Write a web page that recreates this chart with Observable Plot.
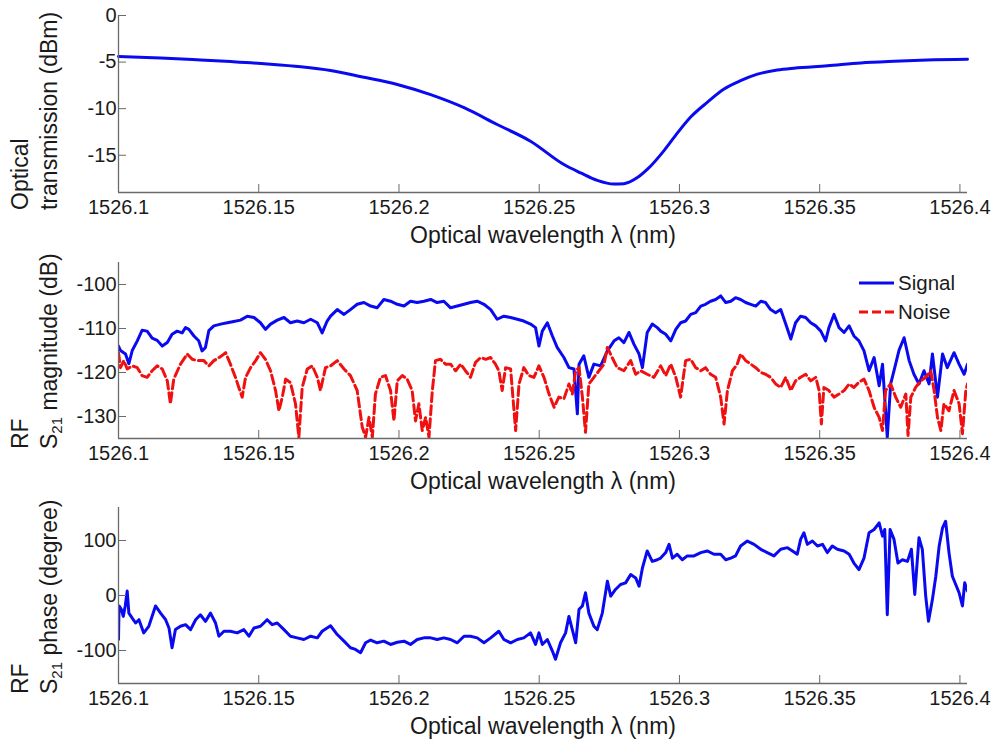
<!DOCTYPE html>
<html><head><meta charset="utf-8">
<script src="https://cdn.jsdelivr.net/npm/d3@7"></script>
<script src="https://cdn.jsdelivr.net/npm/@observablehq/plot@0.6"></script>
<style>body{margin:0;background:#fff;} #chart svg{display:block;}</style>
</head><body><div id="chart"></div>
<script>
const xTicks = [1526.1, 1526.15, 1526.2, 1526.25, 1526.3, 1526.35, 1526.4];
const xDomain = [1526.1, 1526.4027];
const xLabel = "Optical wavelength λ (nm)";

const transTicks = [0, -5, -10, -15];
const magTicks = [-100, -110, -120, -130];
const phaseTicks = [100, 0, -100];
const legendNames = ["Signal", "Noise"];

const transmission = [[1526.1000,-4.40],[1526.1150,-4.55],[1526.1293,-4.77],[1526.1400,-4.95],[1526.1530,-5.2],[1526.1650,-5.5],[1526.1756,-5.9],[1526.1870,-6.6],[1526.1994,-7.4],[1526.2113,-8.5],[1526.2232,-9.9],[1526.2350,-11.7],[1526.2469,-13.5],[1526.2588,-16.0],[1526.2648,-16.9],[1526.2707,-17.7],[1526.2766,-18.1],[1526.2802,-18.05],[1526.2850,-17.4],[1526.2886,-16.5],[1526.2945,-14.5],[1526.2993,-12.6],[1526.3040,-10.9],[1526.3100,-9.3],[1526.3159,-7.9],[1526.3218,-7.0],[1526.3278,-6.3],[1526.3349,-5.85],[1526.3408,-5.65],[1526.3527,-5.4],[1526.3646,-5.1],[1526.3765,-4.92],[1526.3884,-4.78],[1526.4027,-4.7]];

const signal = [[1526.1000,-114],[1526.1007,-115],[1526.1025,-115.8],[1526.1037,-118],[1526.1049,-115],[1526.1067,-112.8],[1526.1084,-110.4],[1526.1102,-110.6],[1526.1120,-112.2],[1526.1138,-112.7],[1526.1156,-114],[1526.1174,-113.2],[1526.1191,-111.3],[1526.1209,-110.6],[1526.1227,-111],[1526.1239,-109.8],[1526.1251,-110.2],[1526.1269,-111.7],[1526.1286,-112.8],[1526.1298,-115.1],[1526.1310,-114.3],[1526.1322,-110.5],[1526.1340,-109.4],[1526.1364,-109],[1526.1388,-108.7],[1526.1411,-108.4],[1526.1435,-108.1],[1526.1459,-107.2],[1526.1483,-107.5],[1526.1506,-108.7],[1526.1524,-110.2],[1526.1542,-109],[1526.1566,-108.1],[1526.1590,-107.5],[1526.1613,-108.7],[1526.1637,-108.3],[1526.1661,-108.7],[1526.1685,-107.9],[1526.1709,-108.7],[1526.1726,-111],[1526.1744,-108.3],
[1526.1756,-107.2],[1526.1780,-105.7],[1526.1804,-106.8],[1526.1827,-105.7],[1526.1851,-104.5],[1526.1875,-104.1],[1526.1899,-104.9],[1526.1922,-105.3],[1526.1946,-103.4],[1526.1970,-103.8],[1526.1994,-104.5],[1526.2018,-104.9],[1526.2041,-103.8],[1526.2065,-104.1],[1526.2089,-103.8],[1526.2113,-103.4],[1526.2136,-104.1],[1526.2160,-103.8],[1526.2184,-105.3],[1526.2208,-104.9],[1526.2232,-104.5],[1526.2255,-104.1],[1526.2279,-103.8],[1526.2303,-104.5],[1526.2327,-105.7],[1526.2350,-107.9],[1526.2374,-107.2],[1526.2398,-107.5],[1526.2422,-107.9],[1526.2445,-108.3],[1526.2469,-109],[1526.2487,-109.8],[1526.2499,-114],[1526.2511,-110.6],[1526.2529,-108.7],[1526.2547,-111.7],[1526.2564,-114.3],[1526.2588,-116.6],[1526.2606,-118.9],[1526.2624,-119.2],[1526.2636,-129.4],[1526.2642,-118.1],[1526.2659,-116.2],[1526.2677,-121.1],[1526.2695,-118.1],[1526.2719,-118.5],[1526.2743,-115.1],[1526.2767,-112.8],[1526.2784,-112.1],[1526.2802,-113.2],[1526.2820,-110.9],[1526.2838,-113.6],[1526.2856,-115.8],[1526.2868,-118.9],[1526.2885,-110.9],[1526.2903,-109],[1526.2921,-109.8],
[1526.2933,-110.6],[1526.2951,-111.3],[1526.2969,-112.8],[1526.2987,-110.2],[1526.3004,-108.7],[1526.3022,-108.3],[1526.3040,-106.8],[1526.3058,-106.4],[1526.3076,-104.9],[1526.3093,-104.5],[1526.3111,-103.8],[1526.3129,-103.4],[1526.3147,-102.6],[1526.3165,-104.1],[1526.3183,-103.8],[1526.3200,-103],[1526.3218,-103.4],[1526.3236,-104.1],[1526.3254,-104.5],[1526.3272,-104.9],[1526.3290,-103.8],[1526.3307,-104.1],[1526.3325,-105.7],[1526.3343,-106.4],[1526.3361,-105.7],[1526.3379,-109],[1526.3397,-112.4],[1526.3414,-108.7],[1526.3432,-107.2],[1526.3450,-107.5],[1526.3468,-108.7],[1526.3486,-109.4],[1526.3504,-110.6],[1526.3521,-112.8],[1526.3533,-109.8],[1526.3551,-106.8],[1526.3569,-109.8],[1526.3587,-110.9],[1526.3605,-109.4],[1526.3622,-111.7],[1526.3640,-112.8],[1526.3658,-115.1],[1526.3676,-119.6],[1526.3694,-116.6],[1526.3712,-123],[1526.3724,-118.1],[1526.3741,-134.7],[1526.3753,-122.6],[1526.3765,-119.6],[1526.3783,-114.9],[1526.3801,-112.1],[1526.3819,-117.3],[1526.3836,-120.4],[1526.3854,-122.6],[1526.3872,-119.6],[1526.3890,-122.6],[1526.3902,-115.8],[1526.3920,-125.6],[1526.3938,-115.8],[1526.3955,-118.9],[1526.3979,-115.5],[1526.3997,-118.1],[1526.4015,-120.4],[1526.4027,-118.1]];

const noise = [[1526.1000,-115.5],[1526.1007,-118.9],[1526.1019,-117.3],[1526.1031,-119.2],[1526.1049,-118.5],[1526.1067,-118.9],[1526.1084,-120.7],[1526.1102,-121.1],[1526.1120,-119.6],[1526.1138,-118.5],[1526.1156,-119.2],[1526.1174,-121.9],[1526.1185,-127.1],[1526.1197,-121.5],[1526.1221,-118.1],[1526.1245,-115.8],[1526.1263,-117],[1526.1281,-117.3],[1526.1304,-117.3],[1526.1322,-118.5],[1526.1340,-117.3],[1526.1364,-116.4],[1526.1382,-115.5],[1526.1399,-118.1],[1526.1417,-121.1],[1526.1429,-123.4],[1526.1441,-125.6],[1526.1453,-121.1],[1526.1471,-118.9],[1526.1489,-117.3],[1526.1506,-115.5],[1526.1524,-117],[1526.1542,-119.6],[1526.1560,-124.1],[1526.1572,-128.7],[1526.1584,-125.6],[1526.1596,-121.5],[1526.1613,-122.3],[1526.1631,-127.1],[1526.1643,-134.7],[1526.1655,-123.4],[1526.1673,-119.2],[1526.1691,-118.5],[1526.1709,-121.1],[1526.1720,-124.1],[1526.1738,-118.9],
[1526.1756,-118.5],[1526.1780,-117.3],[1526.1804,-119.2],[1526.1827,-120.7],[1526.1851,-124.1],[1526.1869,-132.4],[1526.1881,-134.7],[1526.1893,-130.2],[1526.1905,-134.7],[1526.1916,-124.9],[1526.1934,-121.1],[1526.1952,-120.7],[1526.1970,-124.1],[1526.1982,-131],[1526.1994,-121.9],[1526.2012,-120.7],[1526.2029,-121.5],[1526.2047,-124.1],[1526.2059,-131],[1526.2071,-127.1],[1526.2083,-133.2],[1526.2095,-130.2],[1526.2107,-134.7],[1526.2119,-124.1],[1526.2130,-117.3],[1526.2148,-117],[1526.2166,-118.1],[1526.2184,-118.1],[1526.2202,-119.6],[1526.2220,-118.1],[1526.2237,-119.6],[1526.2255,-121.1],[1526.2273,-117.7],[1526.2291,-116.6],[1526.2309,-117],[1526.2327,-116.6],[1526.2344,-118.1],[1526.2356,-119.6],[1526.2368,-124.1],[1526.2380,-118.9],[1526.2398,-119.2],[1526.2416,-133.2],[1526.2428,-122.6],[1526.2445,-118.9],[1526.2463,-120.7],[1526.2481,-121.1],[1526.2499,-118.5],[1526.2517,-121.1],[1526.2535,-124.9],[1526.2553,-127.9],[1526.2570,-125.6],[1526.2588,-126],[1526.2606,-122.6],[1526.2618,-124.9],[1526.2630,-119.6],[1526.2642,-118.9],[1526.2654,-125.6],[1526.2665,-133.6],[1526.2677,-122.6],[1526.2695,-121.1],[1526.2713,-119.6],[1526.2731,-118.1],[1526.2743,-114.3],[1526.2760,-116.6],[1526.2778,-118.9],[1526.2802,-119.6],[1526.2826,-117.3],[1526.2844,-120.4],[1526.2862,-119.6],[1526.2885,-120.4],[1526.2909,-121.1],
[1526.2933,-118.5],[1526.2951,-120.7],[1526.2969,-118.1],[1526.2987,-121.1],[1526.3004,-125.6],[1526.3022,-117.3],[1526.3040,-117],[1526.3058,-118.9],[1526.3076,-119.6],[1526.3093,-118.9],[1526.3111,-120.4],[1526.3129,-121.1],[1526.3147,-125.6],[1526.3159,-131.7],[1526.3171,-124.1],[1526.3189,-119.6],[1526.3206,-118.1],[1526.3218,-115.8],[1526.3236,-117.3],[1526.3254,-118.1],[1526.3272,-118.9],[1526.3290,-120],[1526.3307,-120.4],[1526.3325,-121.1],[1526.3343,-122.6],[1526.3361,-123.4],[1526.3379,-121.1],[1526.3397,-124.1],[1526.3414,-121.9],[1526.3432,-121.1],[1526.3450,-120.4],[1526.3468,-121.9],[1526.3486,-121.1],[1526.3498,-124.1],[1526.3506,-131.7],[1526.3515,-123.4],[1526.3533,-124.1],[1526.3551,-125.6],[1526.3569,-124.9],[1526.3587,-124.1],[1526.3605,-122.6],[1526.3622,-123.4],[1526.3640,-122.2],[1526.3658,-121.5],[1526.3676,-124.1],[1526.3694,-127.9],[1526.3712,-130.2],[1526.3724,-133.2],[1526.3735,-124.1],[1526.3753,-122.6],[1526.3771,-125.6],[1526.3789,-127.9],[1526.3807,-124.9],[1526.3815,-134.3],[1526.3825,-125.6],[1526.3842,-123.4],[1526.3860,-121.9],[1526.3878,-121.1],[1526.3896,-119.6],[1526.3908,-124.1],[1526.3920,-130.2],[1526.3932,-133.2],[1526.3943,-127.1],[1526.3961,-128.7],[1526.3979,-124.1],[1526.3997,-127.1],[1526.4009,-133.9],[1526.4021,-124.1],[1526.4027,-122.6]];

const phase = [[1526.1000,-80],[1526.1002,-19],[1526.1010,-25],[1526.1017,-38],[1526.1024,-19],[1526.1031,8],[1526.1037,-32],[1526.1049,-41],[1526.1061,-50],[1526.1073,-44],[1526.1090,-68],[1526.1108,-56],[1526.1132,-19],[1526.1150,-32],[1526.1168,-44],[1526.1180,-59],[1526.1191,-95],[1526.1203,-62],[1526.1221,-56],[1526.1239,-53],[1526.1257,-62],[1526.1275,-44],[1526.1292,-35],[1526.1310,-47],[1526.1328,-32],[1526.1346,-50],[1526.1358,-74],[1526.1376,-65],[1526.1399,-65],[1526.1423,-68],[1526.1447,-62],[1526.1465,-74],[1526.1483,-59],[1526.1506,-56],[1526.1530,-44],[1526.1548,-53],[1526.1566,-50],[1526.1590,-62],[1526.1613,-74],[1526.1637,-77],[1526.1661,-80],[1526.1685,-74],[1526.1709,-77],[1526.1726,-65],[1526.1756,-55],
[1526.1780,-71],[1526.1804,-83],[1526.1827,-95],[1526.1845,-98],[1526.1863,-104],[1526.1881,-86],[1526.1899,-81],[1526.1922,-86],[1526.1946,-83],[1526.1970,-89],[1526.1994,-85],[1526.2018,-83],[1526.2041,-89],[1526.2065,-80],[1526.2089,-77],[1526.2113,-77],[1526.2136,-80],[1526.2160,-77],[1526.2184,-80],[1526.2208,-86],[1526.2232,-74],[1526.2255,-74],[1526.2279,-77],[1526.2303,-86],[1526.2327,-77],[1526.2356,-65],[1526.2374,-80],[1526.2398,-86],[1526.2422,-80],[1526.2445,-77],[1526.2469,-68],[1526.2487,-89],[1526.2499,-68],[1526.2511,-89],[1526.2529,-80],[1526.2547,-101],[1526.2558,-116],[1526.2576,-86],[1526.2594,-68],[1526.2606,-38],[1526.2618,-62],[1526.2630,-86],[1526.2642,-25],[1526.2654,-19],[1526.2665,5],[1526.2677,-32],[1526.2695,-56],[1526.2707,-62],[1526.2725,-32],[1526.2743,26],[1526.2755,-1],[1526.2772,11],[1526.2790,20],[1526.2808,23],[1526.2826,38],[1526.2844,32],[1526.2856,17],[1526.2868,50],[1526.2885,81],[1526.2903,62],[1526.2921,65],
[1526.2933,68],[1526.2951,78],[1526.2963,93],[1526.2975,68],[1526.2992,75],[1526.3010,65],[1526.3028,72],[1526.3052,72],[1526.3076,78],[1526.3099,81],[1526.3123,75],[1526.3147,75],[1526.3165,65],[1526.3183,68],[1526.3200,72],[1526.3218,90],[1526.3242,99],[1526.3266,93],[1526.3290,84],[1526.3313,78],[1526.3337,72],[1526.3361,84],[1526.3385,87],[1526.3403,81],[1526.3420,75],[1526.3432,102],[1526.3444,114],[1526.3456,93],[1526.3474,99],[1526.3492,90],[1526.3510,93],[1526.3527,78],[1526.3545,90],[1526.3563,84],[1526.3587,81],[1526.3605,75],[1526.3622,59],[1526.3640,47],[1526.3658,68],[1526.3676,114],[1526.3694,120],[1526.3712,132],[1526.3724,108],[1526.3732,120],[1526.3741,-35],[1526.3751,120],[1526.3765,102],[1526.3779,59],[1526.3795,65],[1526.3813,62],[1526.3827,84],[1526.3839,2],[1526.3854,105],[1526.3866,84],[1526.3878,-1],[1526.3888,-47],[1526.3902,-7],[1526.3914,35],[1526.3926,90],[1526.3938,123],[1526.3949,135],[1526.3961,78],[1526.3973,35],[1526.3985,20],[1526.3997,5],[1526.4009,-19],[1526.4017,23],[1526.4027,8]];

const FONT = "'Liberation Sans', Arial, sans-serif";
const TEXT = "#1a1a1a";
const AXIS = "#6a6a6a";
const BLUE = "#0a0af0";
const RED = "#f01010";
const fmt = d => String(d);

function panel(o) {
  return Plot.plot({
    width: 995, height: o.height,
    marginLeft: 118, marginRight: 28, marginTop: o.marginTop, marginBottom: o.marginBottom,
    style: {fontFamily: FONT, fontSize: "20px", color: TEXT, background: "#fff", overflow: "visible"},
    x: {domain: xDomain},
    y: {domain: o.yDomain},
    marks: [
      ...o.marks,
      Plot.ruleY([o.yDomain[0]], {stroke: AXIS, strokeWidth: 1.3}),
      Plot.ruleX([xDomain[0]], {stroke: AXIS, strokeWidth: 1.3}),
      Plot.axisX(xTicks, {tickSize: -8, tickPadding: 15, tickFormat: fmt, stroke: AXIS, fill: TEXT, fontSize: 20, label: null}),
      Plot.axisY(o.yTicks, {tickSize: -8, tickPadding: 10, tickFormat: fmt, stroke: AXIS, fill: TEXT, fontSize: 20, label: null}),
      Plot.text([xLabel], {text: d => d, frameAnchor: "bottom", dy: 43, fontSize: 23, lineAnchor: "middle", fill: TEXT})
    ]
  });
}

function yLabel(svg, x, y, parts) {
  const t = d3.select(svg).append("text")
    .attr("transform", `translate(${x},${y}) rotate(-90)`)
    .attr("text-anchor", "start")
    .attr("font-size", 23).attr("fill", TEXT).attr("font-family", FONT);
  parts.forEach(p => {
    const ts = t.append("tspan").text(p.text);
    if (p.size) ts.attr("font-size", p.size);
    if (p.dy) ts.attr("dy", p.dy);
  });
}

const chart = document.getElementById("chart");

const p1 = panel({
  height: 247, marginTop: 15, marginBottom: 55, yDomain: [-19, 0], yTicks: transTicks,
  marks: [Plot.line(transmission, {x: d => d[0], y: d => d[1], stroke: BLUE, strokeWidth: 3, curve: "monotone-x"})]
});
yLabel(p1, 28, 210, [{text: "Optical"}]);
yLabel(p1, 57, 210, [{text: "transmission (dBm)"}]);
chart.appendChild(p1);

const p2 = panel({
  height: 246, marginTop: 15, marginBottom: 55, yDomain: [-135, -95], yTicks: magTicks,
  marks: [
    Plot.line(signal, {x: d => d[0], y: d => d[1], stroke: BLUE, strokeWidth: 3, clip: true}),
    Plot.line(noise, {x: d => d[0], y: d => d[1], stroke: RED, strokeWidth: 3, strokeDasharray: "9,4", clip: true})
  ]
});
yLabel(p2, 28, 202, [{text: "RF"}]);
yLabel(p2, 57, 202, [{text: "S"}, {text: "21", size: 15, dy: 5}, {text: " magnitude (dB)", dy: -5}]);
{
  const g = d3.select(p2).append("g");
  const items = [{name: legendNames[0], y: 36, dash: null, color: BLUE}, {name: legendNames[1], y: 65, dash: "9,4", color: RED}];
  items.forEach(it => {
    g.append("line").attr("x1", 859).attr("x2", 894).attr("y1", it.y).attr("y2", it.y)
      .attr("stroke", it.color).attr("stroke-width", 3).attr("stroke-dasharray", it.dash);
    g.append("text").attr("x", 898).attr("y", it.y).attr("dy", "0.35em").attr("text-anchor", "start")
      .attr("font-size", 20.5).attr("font-family", FONT).attr("fill", TEXT).text(it.name);
  });
}
chart.appendChild(p2);

const p3 = panel({
  height: 250, marginTop: 14, marginBottom: 60, yDomain: [-160, 160], yTicks: phaseTicks,
  marks: [Plot.line(phase, {x: d => d[0], y: d => d[1], stroke: BLUE, strokeWidth: 3, clip: true})]
});
yLabel(p3, 28, 201, [{text: "RF"}]);
yLabel(p3, 57, 201, [{text: "S"}, {text: "21", size: 15, dy: 5}, {text: " phase (degree)", dy: -5}]);
chart.appendChild(p3);
</script>
</body></html>
